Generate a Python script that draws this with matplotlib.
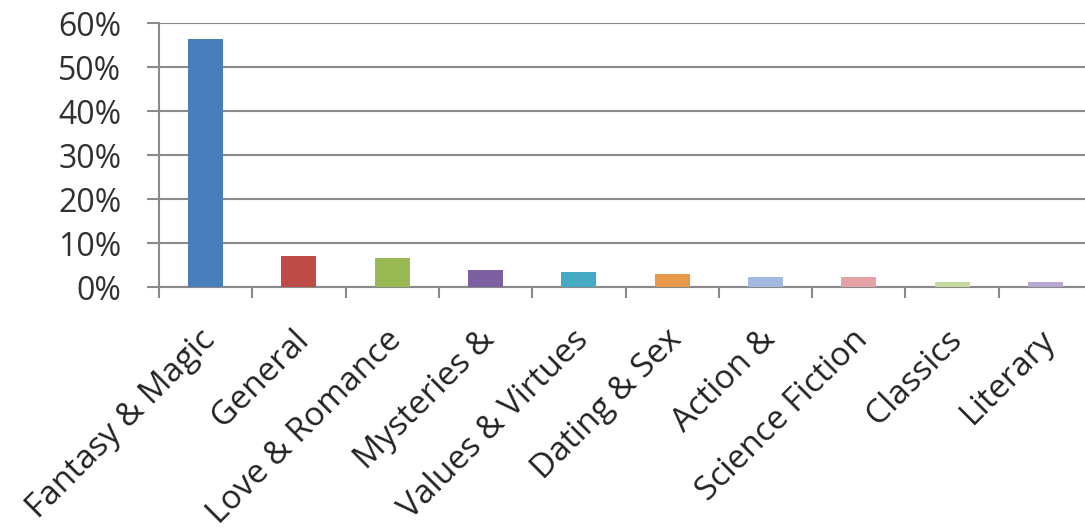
import numpy as np
import matplotlib.pyplot as plt
import matplotlib.transforms as mtransforms

plt.rcParams['font.family'] = ['Open Sans', 'DejaVu Sans']

# genre shares (fraction of titles)
genres = ['Fantasy & Magic', 'General', 'Love & Romance', 'Mysteries &',
          'Values & Virtues', 'Dating & Sex', 'Action &', 'Science Fiction',
          'Classics', 'Literary']
shares = [0.564, 0.072, 0.066, 0.039, 0.034, 0.029, 0.023, 0.023, 0.012, 0.012]
colors = ['#4A7EBB', '#BE4B48', '#98B954', '#7D60A0', '#46AAC5', '#E8984A',
          '#A3B9E0', '#E3A2A5', '#C6D9A0', '#B6A8D0']
yticks = [0, 0.1, 0.2, 0.3, 0.4, 0.5, 0.6]

fig = plt.figure(figsize=(10.85, 5.29), dpi=100)
ax = fig.add_axes([0.1465, 0.457, 0.8600, 0.499])

x = np.arange(len(genres))
ax.bar(x, shares, width=0.375, color=colors, zorder=3)

grid_col = '#8A8A8A'
ax.set_xlim(-0.5, len(genres) - 0.5)
ax.set_ylim(0, 0.6)
ax.set_yticks(yticks)
ax.set_yticklabels([f'{int(round(t * 100))}%' for t in yticks], fontsize=23, color='#303030')
ax.yaxis.grid(True, color=grid_col, linewidth=1.5, zorder=0)
ax.tick_params(axis='y', length=9, width=1.5, color=grid_col, pad=18)

# category separators on the x axis
ax.set_xticks(np.arange(len(genres) + 1) - 0.5, minor=False)
ax.set_xticklabels([])
ax.tick_params(axis='x', length=8, width=1.5, color=grid_col)

for s in ['top', 'right']:
    ax.spines[s].set_visible(False)
for s in ['left', 'bottom']:
    ax.spines[s].set_color(grid_col)
    ax.spines[s].set_linewidth(1.5)

# rotated category labels
offset = mtransforms.ScaledTranslation(-7 / 100, -36 / 100, fig.dpi_scale_trans)
trans = ax.get_xaxis_transform() + offset
for i, g in enumerate(genres):
    ax.text(i, 0, g, transform=trans, rotation=45, rotation_mode='anchor',
            ha='right', va='top', fontsize=24, color='#222222')

fig.savefig('out.png', dpi=100)
